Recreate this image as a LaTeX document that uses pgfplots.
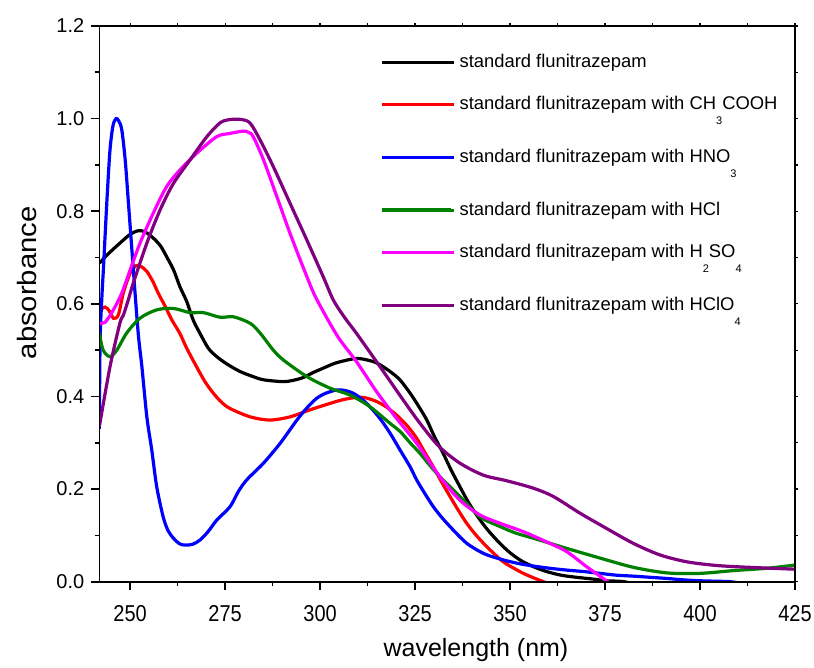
\documentclass[border=0pt]{standalone}
\usepackage{fontspec}
\setmainfont{Liberation Sans}
\usepackage{graphicx}
\usepackage{pgfplots}
\pgfplotsset{compat=1.18}
\newcommand{\sub}[1]{\raisebox{-7.3pt}{\fontsize{5.5}{6}\selectfont #1}}
\definecolor{mygreen}{RGB}{0,128,0}
\definecolor{mymagenta}{RGB}{255,0,255}
\definecolor{mypurple}{RGB}{128,0,128}
\definecolor{myred}{RGB}{255,0,0}
\definecolor{myblue}{RGB}{0,0,255}
\begin{document}
\begin{tikzpicture}
\begin{axis}[
  name=ax, at={(0,0)}, anchor=south west,
  scale only axis, width=348pt, height=278pt,
  xmin=241.9, xmax=425, ymin=0, ymax=1.2,
  xtick={250,275,300,325,350,375,400,425},
  ytick={0,0.2,0.4,0.6,0.8,1.0,1.2},
  minor x tick num=1, minor y tick num=1,
  tick align=outside, xtick pos=left, ytick pos=left,
  major tick length=4pt, minor tick length=2pt,
  axis line style={line width=0.8pt},
  every tick/.style={black, line width=0.8pt},
  /pgf/number format/assume math mode=true,
  tick label style={font=\fontsize{10}{12}\selectfont},
  xticklabel={\scalebox{1}[1.15]{\pgfmathprintnumber[fixed,precision=0]{\tick}}},
  xticklabel style={yshift=-4.5pt},
  yticklabel style={/pgf/number format/.cd, fixed, fixed zerofill, precision=1},
  xlabel={wavelength (nm)},
  xlabel style={at={(axis description cs:0.5414,-0.1223)}, anchor=center, font=\fontsize{12.5}{15}\selectfont},
  ylabel={\scalebox{1.1}[1]{absorbance}},
  ylabel style={at={(axis description cs:-0.104,0.538)}, anchor=center, font=\fontsize{13.3}{16}\selectfont},
  legend style={at={(axis description cs:0.4033,0.9585)}, anchor=north west, draw=none, fill=none,
    font=\fontsize{9.2}{11}\selectfont, row sep=8.1pt, inner sep=0pt,
    nodes={inner sep=2pt, text height=7pt, text depth=2pt, anchor=base west}},
  legend image code/.code={\draw[#1, line width=1.7pt] (0pt,2.6pt) -- (34.5pt,2.6pt); \path (0pt,2.6pt) -- (36pt,2.6pt);},
]
\addplot[black, line width=1.6pt, smooth] coordinates {
(241.9,0.688) (244.5,0.71) (247.3,0.731) (250,0.75) (252.2,0.758) (254,0.755) (256.1,0.742) (258,0.725) (259.6,0.702) (261.5,0.672) (263.1,0.637) (264.9,0.605) (266.6,0.565) (268.4,0.536) (270.6,0.504) (272.8,0.486) (275.5,0.47) (278.9,0.454) (282,0.444) (285.1,0.436) (290.3,0.432) (293,0.435) (295.6,0.441) (298,0.451) (300.8,0.461) (304,0.472) (307.9,0.480) (310,0.482) (312.3,0.479) (315,0.472) (318.4,0.454) (321,0.436) (323.7,0.407) (326,0.378) (328.1,0.349) (330,0.315) (332.4,0.277) (334.5,0.241) (336.8,0.205) (339,0.172) (341.2,0.144) (343.8,0.115) (346.5,0.090) (349.5,0.066) (352.6,0.047) (356,0.033) (359.6,0.022) (363.5,0.014) (367.5,0.0095) (371.5,0.006) (375.4,0.002) (380,0.0) (385,-0.01)
};
\addlegendentry[anchor=base west]{standard flunitrazepam}
\addplot[myred, line width=1.6pt, smooth] coordinates {
(241.9,0.585) (243.4,0.593) (244.5,0.585) (245.6,0.569) (246.9,0.576) (248.2,0.623) (250,0.666) (251.7,0.683) (253,0.68) (254.4,0.670) (256,0.648) (257.4,0.623) (259.2,0.595) (261,0.565) (263.1,0.536) (264.9,0.504) (267.5,0.464) (269.7,0.432) (271.9,0.407) (274,0.388) (276.3,0.374) (281.6,0.356) (286.8,0.349) (292.1,0.356) (297.3,0.371) (302.6,0.385) (306,0.393) (309.6,0.398) (312,0.397) (314.9,0.389) (317.5,0.377) (320.1,0.360) (323,0.336) (325.4,0.310) (327.5,0.28) (329.8,0.248) (332,0.215) (334.2,0.184) (336.4,0.154) (338.6,0.126) (340.8,0.103) (343,0.083) (345.6,0.062) (348.2,0.043) (351,0.029) (353.5,0.018) (356,0.009) (358.8,0.0) (362,-0.01)
};
\addlegendentry[anchor=base west, text depth=7.35pt]{standard flunitrazepam with CH\sub{3}COOH}
\addplot[myblue, line width=1.6pt, smooth] coordinates {
(241.9,0.33) (242.1,0.52) (242.6,0.62) (243,0.68) (243.9,0.824) (244.7,0.932) (245.5,0.985) (246.3,1.0) (247,0.995) (247.8,0.976) (248.7,0.911) (249.5,0.824) (250.4,0.724) (251.3,0.623) (252.2,0.53) (253.1,0.464) (254.4,0.356) (255.7,0.284) (257,0.205) (258.7,0.140) (260,0.11) (261.4,0.094) (263,0.082) (264.5,0.079) (266.5,0.081) (268.4,0.090) (270.5,0.108) (272.8,0.133) (276.3,0.162) (278.5,0.195) (280.7,0.220) (285.1,0.256) (289.5,0.299) (293.9,0.349) (296.5,0.375) (299.1,0.396) (301.5,0.407) (304.4,0.414) (306.5,0.413) (308.7,0.407) (311,0.394) (313.1,0.378) (315.8,0.352) (318.4,0.321) (321,0.285) (323.7,0.248) (325.4,0.220) (327.6,0.19) (329.8,0.162) (332,0.139) (334.2,0.119) (336.4,0.1) (338.6,0.083) (341.2,0.069) (343.9,0.058) (347.8,0.048) (351.8,0.040) (356,0.034) (360.5,0.029) (365,0.025) (369.3,0.022) (373.7,0.018) (378.1,0.014) (382.5,0.012) (386.9,0.0095) (391.3,0.007) (395.6,0.004) (400,0.002) (404.4,0.001) (408,0.0) (412,-0.005)
};
\addlegendentry[anchor=base west, text depth=7.35pt]{standard flunitrazepam with HNO\sub{3}}
\addplot[mygreen, line width=1.6pt, smooth] coordinates {
(241.9,0.537) (242.9,0.50) (244.7,0.486) (246.5,0.50) (249.1,0.537) (252.6,0.569) (257,0.587) (261.4,0.590) (265.8,0.581) (269.3,0.581) (273.7,0.571) (277.2,0.572) (281.6,0.558) (284.2,0.537) (287.7,0.50) (290.3,0.479) (296.5,0.443) (302.6,0.418) (307.9,0.403) (313.1,0.378) (318.4,0.342) (321,0.325) (323.7,0.300) (326.3,0.277) (330.7,0.234) (336.8,0.184) (342.1,0.140) (347.4,0.119) (351.5,0.105) (356.1,0.094) (364.9,0.072) (373.7,0.051) (382.5,0.031) (391.3,0.019) (400,0.018) (408.8,0.024) (417.6,0.029) (425,0.036)
};
\addlegendentry[anchor=base west]{standard flunitrazepam with HCl}
\addplot[mymagenta, line width=1.6pt, smooth] coordinates {
(241.9,0.558) (243.4,0.56) (245.6,0.587) (247.8,0.623) (250,0.673) (252.6,0.731) (256.1,0.796) (259.6,0.853) (263.1,0.889) (267.5,0.925) (272.8,0.961) (276.3,0.968) (279.8,0.973) (281.2,0.97) (282.4,0.961) (285.1,0.911) (288.6,0.832) (292.1,0.752) (296.5,0.659) (299.1,0.610) (304.6,0.53) (309.6,0.475) (314.9,0.410) (320.1,0.353) (325.4,0.299) (331.5,0.227) (336.8,0.176) (342.1,0.144) (347.4,0.126) (353.5,0.108) (359.6,0.086) (364.9,0.065) (370.2,0.032) (375.4,0.002) (378,-0.015)
};
\addlegendentry[anchor=base west, text depth=7.35pt]{standard flunitrazepam with H\sub{2}SO\sub{4}}
\addplot[mypurple, line width=1.6pt, smooth] coordinates {
(241.9,0.335) (244.7,0.464) (247.3,0.558) (248.2,0.575) (249.5,0.608) (250.8,0.644) (254.4,0.731) (257.9,0.803) (261.4,0.860) (265.8,0.911) (270.2,0.961) (273.7,0.991) (276.3,0.998) (279.4,0.998) (281.6,0.990) (284.2,0.954) (287.7,0.896) (292.1,0.817) (296.5,0.738) (300.8,0.659) (303.5,0.608) (306.5,0.57) (309.6,0.536) (315.8,0.464) (321.9,0.392) (326.3,0.342) (331.3,0.292) (336.8,0.256) (343,0.230) (349.1,0.218) (356.1,0.202) (361.4,0.184) (368.4,0.148) (375.4,0.115) (382.4,0.083) (389.4,0.058) (396.5,0.043) (404.4,0.035) (413.1,0.031) (425,0.027)
};
\addlegendentry[anchor=base west, text depth=7.35pt]{standard flunitrazepam with HClO\sub{4}}
\end{axis}
\begin{axis}[
  at={(0,0)}, anchor=south west,
  scale only axis, width=348pt, height=278pt,
  xmin=241.9, xmax=425, ymin=0, ymax=1.2,
  xtick={250,275,300,325,350,375,400,425},
  ytick={0,0.2,0.4,0.6,0.8,1.0,1.2},
  minor x tick num=1, minor y tick num=1,
  tick align=outside, xtick pos=right, ytick pos=right,
  major tick length=1.5pt, minor tick length=1.5pt,
  xticklabels={}, yticklabels={},
  axis line style={line width=0.8pt},
  every tick/.style={black, line width=0.6pt},
]
\end{axis}
\pgfresetboundingbox
\path (-49.7pt,-43pt) rectangle (357.5pt,291pt);
\end{tikzpicture}
\end{document}
